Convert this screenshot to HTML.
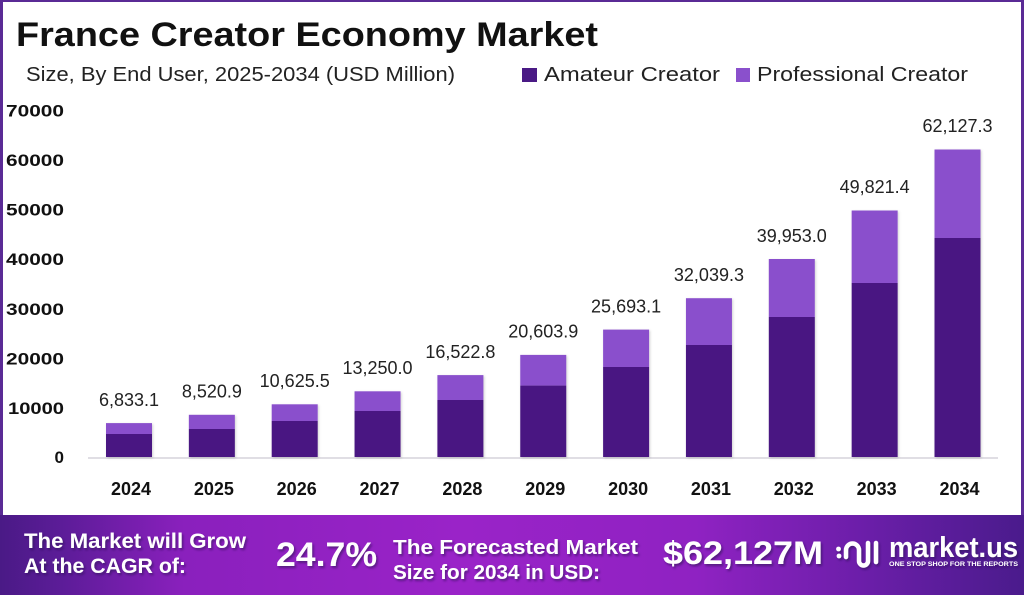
<!DOCTYPE html>
<html>
<head>
<meta charset="utf-8">
<style>
  html, body { margin: 0; padding: 0; background: #ffffff; }
  body { width: 1024px; height: 595px; overflow: hidden; }
  svg { display: block; }
  text { font-family: "Liberation Sans", "DejaVu Sans", sans-serif; }
</style>
</head>
<body>
<svg width="1024" height="595" viewBox="0 0 1024 595" xmlns="http://www.w3.org/2000/svg">
  <defs>
    <linearGradient id="foot" x1="0" y1="0" x2="1" y2="0">
      <stop offset="0" stop-color="#4a1a86"/>
      <stop offset="0.06" stop-color="#5c1c98"/>
      <stop offset="0.18" stop-color="#8a20bd"/>
      <stop offset="0.45" stop-color="#9a23c8"/>
      <stop offset="0.68" stop-color="#8f22c2"/>
      <stop offset="0.85" stop-color="#6a1ea8"/>
      <stop offset="1" stop-color="#4a1b8c"/>
    </linearGradient>
    <filter id="sh" x="-20%" y="-20%" width="140%" height="140%">
      <feDropShadow dx="1" dy="1" stdDeviation="1.2" flood-color="#000" flood-opacity="0.18"/>
    </filter>
    <filter id="tsh" x="-10%" y="-20%" width="120%" height="150%">
      <feDropShadow dx="1.5" dy="2" stdDeviation="1" flood-color="#2a0a50" flood-opacity="0.55"/>
    </filter>
  </defs>

  <!-- frame -->
  <rect x="0" y="0" width="1024" height="515" fill="#ffffff"/>
  <rect x="0" y="0" width="1024" height="2" fill="#5a2a95"/>
  <rect x="0" y="0" width="3" height="515" fill="#5a2a95"/>
  <rect x="1021" y="0" width="3" height="515" fill="#5a2a95"/>

  <!-- title -->
  <text x="16" y="46" font-size="34" font-weight="bold" fill="#111" textLength="582" lengthAdjust="spacingAndGlyphs">France Creator Economy Market</text>
  <text x="26" y="81" font-size="20" fill="#222" textLength="429" lengthAdjust="spacingAndGlyphs">Size, By End User, 2025-2034 (USD Million)</text>

  <!-- legend -->
  <rect x="522" y="68" width="15" height="14" fill="#4a1a85"/>
  <text x="544" y="81" font-size="20" fill="#222" textLength="176" lengthAdjust="spacingAndGlyphs">Amateur Creator</text>
  <rect x="736" y="68" width="14" height="14" fill="#8a50cc"/>
  <text x="757" y="81" font-size="20" fill="#222" textLength="211" lengthAdjust="spacingAndGlyphs">Professional Creator</text>

  <!-- y axis labels -->
  <g font-size="17" font-weight="bold" fill="#111" text-anchor="end">
    <text x="64" y="116.5" textLength="58" lengthAdjust="spacingAndGlyphs">70000</text>
    <text x="64" y="166" textLength="58" lengthAdjust="spacingAndGlyphs">60000</text>
    <text x="64" y="215.6" textLength="58" lengthAdjust="spacingAndGlyphs">50000</text>
    <text x="64" y="265.2" textLength="58" lengthAdjust="spacingAndGlyphs">40000</text>
    <text x="64" y="314.8" textLength="58" lengthAdjust="spacingAndGlyphs">30000</text>
    <text x="64" y="364.3" textLength="58" lengthAdjust="spacingAndGlyphs">20000</text>
    <text x="64" y="414" textLength="56" lengthAdjust="spacingAndGlyphs">10000</text>
    <text x="64" y="463">0</text>
  </g>

  <!-- axis line -->
  <line x1="88" y1="458" x2="998" y2="458" stroke="#d6d3dc" stroke-width="1.5"/>

  <!-- bars -->
  <g filter="url(#sh)">
    <rect x="106" y="423.1" width="46" height="10.9" fill="#8a50cc"/><rect x="106" y="434" width="46" height="23" fill="#4a1782"/>
    <rect x="188.85" y="414.8" width="46" height="14.2" fill="#8a50cc"/><rect x="188.85" y="429" width="46" height="28" fill="#4a1782"/>
    <rect x="271.7" y="404.3" width="46" height="16.7" fill="#8a50cc"/><rect x="271.7" y="421" width="46" height="36" fill="#4a1782"/>
    <rect x="354.55" y="391.3" width="46" height="19.7" fill="#8a50cc"/><rect x="354.55" y="411" width="46" height="46" fill="#4a1782"/>
    <rect x="437.4" y="375.1" width="46" height="24.9" fill="#8a50cc"/><rect x="437.4" y="400" width="46" height="57" fill="#4a1782"/>
    <rect x="520.25" y="354.9" width="46" height="30.7" fill="#8a50cc"/><rect x="520.25" y="385.6" width="46" height="71.4" fill="#4a1782"/>
    <rect x="603.1" y="329.6" width="46" height="37.4" fill="#8a50cc"/><rect x="603.1" y="367" width="46" height="90" fill="#4a1782"/>
    <rect x="685.95" y="298.2" width="46" height="46.8" fill="#8a50cc"/><rect x="685.95" y="345" width="46" height="112" fill="#4a1782"/>
    <rect x="768.8" y="259" width="46" height="58" fill="#8a50cc"/><rect x="768.8" y="317" width="46" height="140" fill="#4a1782"/>
    <rect x="851.65" y="210.5" width="46" height="72.5" fill="#8a50cc"/><rect x="851.65" y="283" width="46" height="174" fill="#4a1782"/>
    <rect x="934.5" y="149.5" width="46" height="88.5" fill="#8a50cc"/><rect x="934.5" y="238" width="46" height="219" fill="#4a1782"/>
  </g>

  <!-- data labels -->
  <g font-size="18" fill="#222" text-anchor="middle">
    <text x="129" y="406">6,833.1</text>
    <text x="211.85" y="397.5">8,520.9</text>
    <text x="294.7" y="387">10,625.5</text>
    <text x="377.55" y="374">13,250.0</text>
    <text x="460.4" y="358">16,522.8</text>
    <text x="543.25" y="337.5">20,603.9</text>
    <text x="626.1" y="312.5">25,693.1</text>
    <text x="708.95" y="281">32,039.3</text>
    <text x="791.8" y="242">39,953.0</text>
    <text x="874.65" y="193">49,821.4</text>
    <text x="957.5" y="132">62,127.3</text>
  </g>

  <!-- x labels -->
  <g font-size="18" font-weight="bold" fill="#111" text-anchor="middle">
    <text x="131" y="495">2024</text>
    <text x="213.85" y="495">2025</text>
    <text x="296.7" y="495">2026</text>
    <text x="379.55" y="495">2027</text>
    <text x="462.4" y="495">2028</text>
    <text x="545.25" y="495">2029</text>
    <text x="628.1" y="495">2030</text>
    <text x="710.95" y="495">2031</text>
    <text x="793.8" y="495">2032</text>
    <text x="876.65" y="495">2033</text>
    <text x="959.5" y="495">2034</text>
  </g>

  <!-- footer -->
  <rect x="0" y="515" width="1024" height="80" fill="url(#foot)"/>
  <g fill="#ffffff" font-weight="bold" filter="url(#tsh)">
    <text x="24" y="548" font-size="21" textLength="222" lengthAdjust="spacingAndGlyphs">The Market will Grow</text>
    <text x="24" y="573" font-size="21" textLength="162" lengthAdjust="spacingAndGlyphs">At the CAGR of:</text>
    <text x="276" y="566" font-size="34" textLength="101" lengthAdjust="spacingAndGlyphs">24.7%</text>
    <text x="393" y="554" font-size="20" textLength="245" lengthAdjust="spacingAndGlyphs">The Forecasted Market</text>
    <text x="393" y="579" font-size="20" textLength="207" lengthAdjust="spacingAndGlyphs">Size for 2034 in USD:</text>
    <text x="663" y="564" font-size="32" textLength="160" lengthAdjust="spacingAndGlyphs">$62,127M</text>
  </g>

  <!-- logo -->
  <g filter="url(#tsh)">
    <circle cx="838.5" cy="549" r="2.4" fill="#fff"/>
    <circle cx="839" cy="556" r="2.4" fill="#fff"/>
    <path d="M846 557 V550 a6.5 6.5 0 0 1 13 0 V561 a4.5 4.5 0 0 0 9 0" fill="none" stroke="#fff" stroke-width="4.5" stroke-linecap="round"/>
    <line x1="868" y1="543" x2="868" y2="560" stroke="#fff" stroke-width="4.5" stroke-linecap="round"/>
    <line x1="876" y1="543" x2="876" y2="562" stroke="#fff" stroke-width="4.5" stroke-linecap="round"/>
    <text x="889" y="557" font-size="29" font-weight="bold" fill="#fff" textLength="129" lengthAdjust="spacingAndGlyphs">market.us</text>
    <text x="889" y="566" font-size="6" font-weight="bold" fill="#fff" textLength="129" lengthAdjust="spacingAndGlyphs">ONE STOP SHOP FOR THE REPORTS</text>
  </g>
</svg>
</body>
</html>
